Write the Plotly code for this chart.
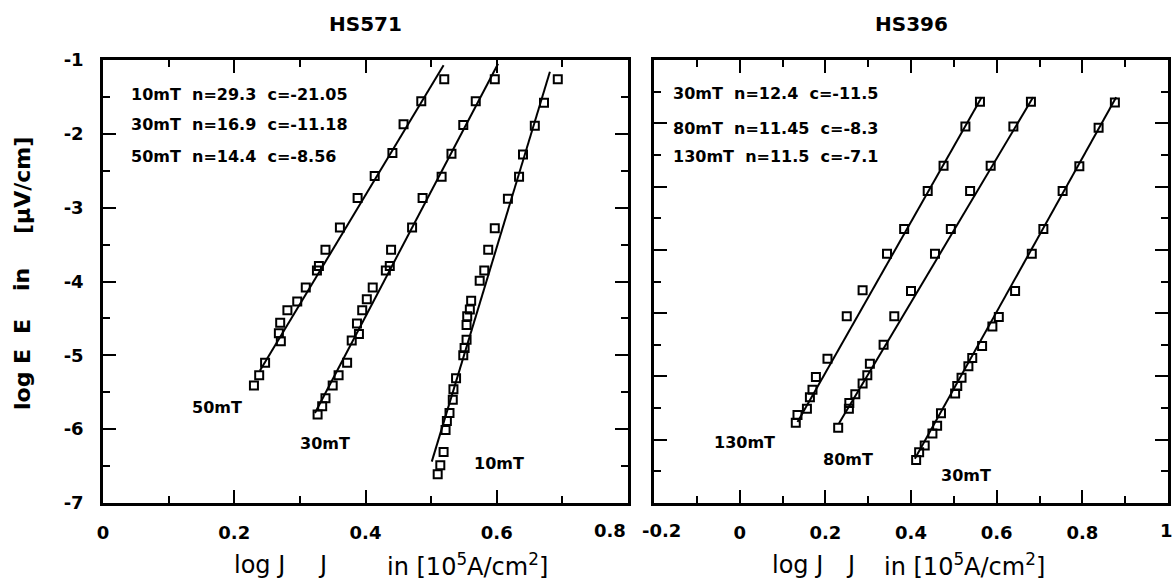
import plotly.graph_objects as go

# ---------------- data ----------------
# HS571 panel
hs571_50mT_logJ = [0.520, 0.485, 0.458, 0.441, 0.414, 0.388, 0.361, 0.339, 0.329, 0.326,
                   0.309, 0.296, 0.281, 0.270, 0.268, 0.271, 0.247, 0.238, 0.230]
hs571_50mT_logE = [-1.26, -1.56, -1.87, -2.26, -2.57, -2.87, -3.27, -3.57, -3.79, -3.85,
                   -4.08, -4.27, -4.39, -4.56, -4.70, -4.81, -5.10, -5.27, -5.41]
hs571_30mT_logJ = [0.597, 0.568, 0.549, 0.531, 0.516, 0.487, 0.471, 0.439, 0.437, 0.431,
                   0.411, 0.402, 0.395, 0.387, 0.390, 0.379, 0.372, 0.359, 0.350, 0.339,
                   0.334, 0.327]
hs571_30mT_logE = [-1.26, -1.56, -1.88, -2.27, -2.58, -2.87, -3.27, -3.57, -3.79, -3.85,
                   -4.08, -4.24, -4.39, -4.57, -4.71, -4.80, -5.10, -5.27, -5.41, -5.58,
                   -5.69, -5.80]
hs571_10mT_logJ = [0.693, 0.672, 0.658, 0.640, 0.634, 0.617, 0.597, 0.587, 0.581, 0.574,
                   0.561, 0.559, 0.555, 0.554, 0.554, 0.551, 0.549, 0.538, 0.534, 0.533,
                   0.528, 0.524, 0.522, 0.519, 0.514, 0.510]
hs571_10mT_logE = [-1.26, -1.58, -1.89, -2.28, -2.58, -2.88, -3.28, -3.57, -3.85, -3.99,
                   -4.26, -4.38, -4.47, -4.59, -4.79, -4.90, -5.00, -5.31, -5.46, -5.60,
                   -5.78, -5.89, -6.01, -6.31, -6.49, -6.61]
# fitted lines (end points)
hs571_50mT_fit_logJ = [0.239, 0.519]
hs571_50mT_fit_logE = [-5.21, -1.07]
hs571_30mT_fit_logJ = [0.323, 0.602]
hs571_30mT_fit_logE = [-5.78, -1.05]
hs571_10mT_fit_logJ = [0.501, 0.681]
hs571_10mT_fit_logE = [-6.44, -1.16]

# HS396 panel
hs396_130mT_logJ = [0.561, 0.527, 0.476, 0.439, 0.384, 0.344, 0.287, 0.250, 0.205, 0.178,
                    0.170, 0.164, 0.157, 0.135, 0.131]
hs396_130mT_logE = [-0.66, -1.05, -1.67, -2.07, -2.67, -3.06, -3.64, -4.05, -4.72, -5.01,
                    -5.21, -5.33, -5.51, -5.61, -5.73]
hs396_80mT_logJ = [0.680, 0.639, 0.586, 0.538, 0.493, 0.456, 0.400, 0.361, 0.336, 0.304,
                   0.298, 0.287, 0.270, 0.256, 0.255, 0.230]
hs396_80mT_logE = [-0.66, -1.05, -1.67, -2.07, -2.67, -3.06, -3.65, -4.05, -4.50, -4.80,
                   -4.98, -5.11, -5.28, -5.42, -5.51, -5.81]
hs396_30mT_logJ = [0.876, 0.838, 0.793, 0.754, 0.709, 0.682, 0.643, 0.605, 0.590, 0.566,
                   0.543, 0.534, 0.518, 0.508, 0.503, 0.470, 0.461, 0.450, 0.432, 0.419,
                   0.412]
hs396_30mT_logE = [-0.67, -1.07, -1.68, -2.07, -2.67, -3.06, -3.65, -4.06, -4.21, -4.52,
                   -4.71, -4.84, -5.02, -5.15, -5.27, -5.58, -5.78, -5.90, -6.09, -6.20,
                   -6.32]
hs396_130mT_fit_logJ = [0.135, 0.565]
hs396_130mT_fit_logE = [-5.72, -0.59]
hs396_80mT_fit_logJ = [0.232, 0.685]
hs396_80mT_fit_logE = [-5.74, -0.59]
hs396_30mT_fit_logJ = [0.409, 0.879]
hs396_30mT_fit_logE = [-6.30, -0.59]

# texts
panel_titles = ["HS571", "HS396"]
hs571_fit_texts = ["10mT  n=29.3  c=-21.05", "30mT  n=16.9  c=-11.18", "50mT  n=14.4  c=-8.56"]
hs396_fit_texts = ["30mT  n=12.4  c=-11.5", "80mT  n=11.45  c=-8.3", "130mT  n=11.5  c=-7.1"]
hs571_curve_labels = ["50mT", "30mT", "10mT"]
hs396_curve_labels = ["130mT", "80mT", "30mT"]

left_xtick_vals = [0, 0.2, 0.4, 0.6]
left_xtick_text = ["0", "0.2", "0.4", "0.6"]
left_xend_label = "0.8"
right_xtick_vals = [0, 0.2, 0.4, 0.6, 0.8]
right_xtick_text = ["0", "0.2", "0.4", "0.6", "0.8"]
right_xstart_label = "-0.2"
right_xend_label = "1"
left_ytick_vals = [-1, -2, -3, -4, -5, -6, -7]
left_ytick_text = ["-1", "-2", "-3", "-4", "-5", "-6", "-7"]
right_ytick_vals = [0, -1, -2, -3, -4, -5, -6, -7]

x_title_parts = ["log J", "J", "in [10<sup>5</sup>A/cm<sup>2</sup>]"]
y_title_parts = ["log E", "E", "in", "[\u03bcV/cm]"]

# ---------------- figure ----------------
W, H = 1172, 584
FONT = "DejaVu Sans"
fig = go.Figure()

marker = dict(symbol="square-open", size=8, color="black", line=dict(width=2, color="black"))
linestyle = dict(color="black", width=2)

def add_series(xs, ys, fx, fy, xa, ya):
    fig.add_trace(go.Scatter(x=fx, y=fy, mode="lines", line=linestyle,
                             xaxis=xa, yaxis=ya, showlegend=False, hoverinfo="skip"))
    fig.add_trace(go.Scatter(x=xs, y=ys, mode="markers", marker=marker,
                             xaxis=xa, yaxis=ya, showlegend=False))

add_series(hs571_50mT_logJ, hs571_50mT_logE, hs571_50mT_fit_logJ, hs571_50mT_fit_logE, "x", "y")
add_series(hs571_30mT_logJ, hs571_30mT_logE, hs571_30mT_fit_logJ, hs571_30mT_fit_logE, "x", "y")
add_series(hs571_10mT_logJ, hs571_10mT_logE, hs571_10mT_fit_logJ, hs571_10mT_fit_logE, "x", "y")
add_series(hs396_130mT_logJ, hs396_130mT_logE, hs396_130mT_fit_logJ, hs396_130mT_fit_logE, "x2", "y2")
add_series(hs396_80mT_logJ, hs396_80mT_logE, hs396_80mT_fit_logJ, hs396_80mT_fit_logE, "x2", "y2")
add_series(hs396_30mT_logJ, hs396_30mT_logE, hs396_30mT_fit_logJ, hs396_30mT_fit_logE, "x2", "y2")

tickfont = dict(family=FONT, size=18, color="black", weight="bold")
common = dict(showgrid=False, zeroline=False, showline=True, linecolor="black", linewidth=2.5,
              mirror="allticks", ticks="inside", ticklen=13, tickwidth=2, tickcolor="black",
              tickfont=tickfont, automargin=False)

y_dom = [1 - 503 / H, 1 - 60 / H]
XL0, XL1 = 103, 628
XR0, XR1 = 654, 1168
fig.update_layout(
    template="none",
    width=W, height=H, margin=dict(l=0, r=0, t=0, b=0, autoexpand=False),
    paper_bgcolor="white", plot_bgcolor="white", showlegend=False,
    xaxis=dict(domain=[XL0 / W, XL1 / W], range=[0, 0.8], tickmode="array",
               tickvals=left_xtick_vals, ticktext=left_xtick_text, ticklabelstandoff=12,
               minor=dict(tickmode="linear", tick0=0, dtick=0.1, ticks="inside", ticklen=7,
                          tickwidth=2, tickcolor="black"),
               anchor="y", **common),
    yaxis=dict(domain=y_dom, range=[-7, -1], tickmode="array",
               tickvals=left_ytick_vals, ticktext=left_ytick_text, ticklabelstandoff=13,
               minor=dict(tickmode="linear", tick0=0, dtick=0.5, ticks="inside", ticklen=7,
                          tickwidth=2, tickcolor="black"),
               anchor="x", **common),
    xaxis2=dict(domain=[XR0 / W, XR1 / W], range=[-0.2, 1.0], tickmode="array",
                tickvals=right_xtick_vals, ticktext=right_xtick_text, ticklabelstandoff=12,
                minor=dict(tickmode="linear", tick0=0, dtick=0.1, ticks="inside", ticklen=7,
                           tickwidth=2, tickcolor="black"),
                anchor="y2", **common),
    yaxis2=dict(domain=y_dom, range=[-7, 0], tickmode="array",
                tickvals=right_ytick_vals, showticklabels=False,
                minor=dict(tickmode="linear", tick0=0, dtick=0.5, ticks="inside", ticklen=7,
                           tickwidth=2, tickcolor="black"),
                anchor="x2", **common),
)

ann = []
txtfont = dict(family=FONT, size=16, color="black", weight="bold")
# edge tick labels (shifted apart as in the original)
for t, px, anc in [(left_xend_label, XL1, "right"), (right_xstart_label, 640, "left"),
                   (right_xend_label, 1166, "center")]:
    ann.append(dict(text=t, x=px / W, y=1 - 530 / H, xref="paper", yref="paper",
                    showarrow=False, xanchor=anc, yanchor="middle", font=tickfont))
# panel titles
for t, xc in zip(panel_titles, [(XL0 + XL1) / 2 / W, (XR0 + XR1) / 2 / W]):
    ann.append(dict(text=t, x=xc, y=1 - 24 / H, xref="paper", yref="paper", showarrow=False,
                    xanchor="center", yanchor="middle",
                    font=dict(family=FONT, size=20, color="black", weight="bold")))
# x titles (pieces spaced as in the original)
xt_font = dict(family=FONT, size=24, color="black")
for pos in [(232, 322, 385), (770, 850, 882)]:
    for t, px, anc in zip(x_title_parts, pos, ["left", "center", "left"]):
        ann.append(dict(text=t, x=px / W, y=1 - 565 / H, xref="paper", yref="paper",
                        showarrow=False, xanchor=anc, yanchor="middle", font=xt_font))
# y title pieces (rotated)
yt_font = dict(family=FONT, size=22, color="black", weight="bold")
for t, yc in zip(y_title_parts, [380, 327, 280, 186]):
    ann.append(dict(text=t, x=22 / W, y=1 - yc / H, xref="paper", yref="paper",
                    showarrow=False, textangle=-90, xanchor="center", yanchor="middle",
                    font=yt_font))
# fit parameter texts
for t, yy in zip(hs571_fit_texts, [-1.47, -1.88, -2.31]):
    ann.append(dict(text=t, x=0.04, y=yy, xref="x", yref="y",
                    showarrow=False, xanchor="left", yanchor="middle", font=txtfont))
for t, yy in zip(hs396_fit_texts, [-0.53, -1.08, -1.52]):
    ann.append(dict(text=t, x=-0.16, y=yy, xref="x2", yref="y2",
                    showarrow=False, xanchor="left", yanchor="middle", font=txtfont))
# curve labels
for t, xx, yy in zip(hs571_curve_labels, [0.173, 0.338, 0.604], [-5.71, -6.20, -6.46]):
    ann.append(dict(text=t, x=xx, y=yy, xref="x", yref="y", showarrow=False,
                    xanchor="center", yanchor="middle", font=txtfont))
for t, xx, yy in zip(hs396_curve_labels, [0.012, 0.254, 0.529], [-6.04, -6.32, -6.56]):
    ann.append(dict(text=t, x=xx, y=yy, xref="x2", yref="y2", showarrow=False,
                    xanchor="center", yanchor="middle", font=txtfont))
fig.update_layout(annotations=ann)

fig.write_html("out.html")
